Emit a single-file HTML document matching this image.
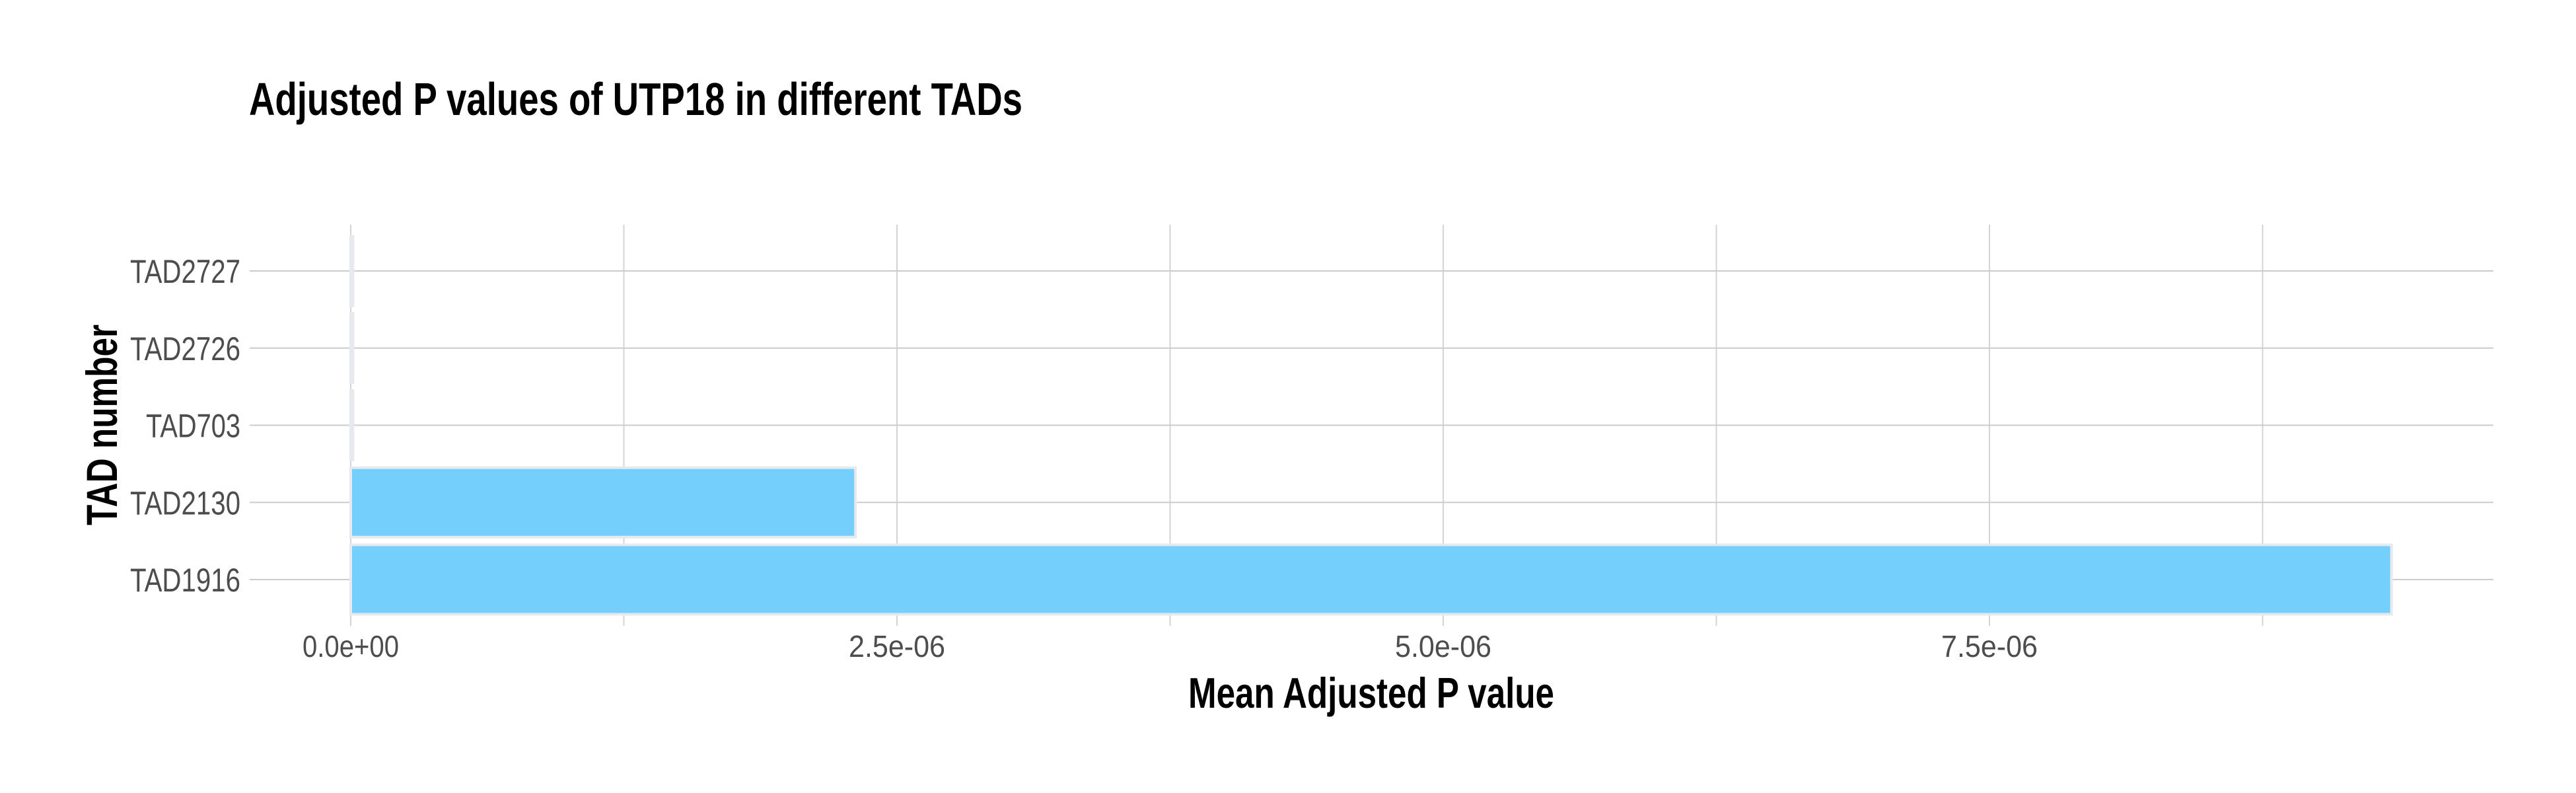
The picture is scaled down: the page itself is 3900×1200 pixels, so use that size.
<!DOCTYPE html>
<html><head><meta charset="utf-8"><style>
html,body{margin:0;padding:0;background:#fff;}
svg{display:block;}
text{font-family:"Liberation Sans",sans-serif;}
</style></head><body>
<svg id="chart" width="3900" height="1200" viewBox="0 0 3900 1200" xmlns="http://www.w3.org/2000/svg">
<rect width="3900" height="1200" fill="#fff"/>
<text x="377" y="174" font-size="70" font-weight="bold" fill="#000" textLength="1171" lengthAdjust="spacingAndGlyphs">Adjusted P values of UTP18 in different TADs</text>
<g id="grid"></g>
<g id="bars"></g>
<g id="ylabels"></g>
<g id="xlabels"></g>
<text x="2076" y="1071" text-anchor="middle" font-size="65" font-weight="bold" fill="#000" textLength="554" lengthAdjust="spacingAndGlyphs">Mean Adjusted P value</text>
<text transform="translate(177,643) rotate(-90)" text-anchor="middle" font-size="66" font-weight="bold" fill="#000" textLength="304" lengthAdjust="spacingAndGlyphs">TAD number</text>
</svg>
<script>
const categories = ["TAD1916","TAD2130","TAD703","TAD2726","TAD2727"];
const values = [9.34e-6, 2.31e-6, 1e-8, 1e-8, 1e-8];
const xTicks = [0, 2.5e-6, 5e-6, 7.5e-6];
const xTickLabels = ["0.0e+00","2.5e-06","5.0e-06","7.5e-06"];
const xMinor = [1.25e-6, 3.75e-6, 6.25e-6, 8.75e-6];

const NS = "http://www.w3.org/2000/svg";
const plotL = 378, plotR = 3775, plotT = 340, plotB = 947;
const x0 = 531, pxPer = 827 / 2.5e-6;
function xScale(v){ return x0 + v * pxPer; }
const bandTop = 877, band = 116.75;
function yScale(i){ return bandTop - i * band; }
function mk(tag, attrs, parent){
  const e = document.createElementNS(NS, tag);
  for (const k in attrs) e.setAttribute(k, attrs[k]);
  parent.appendChild(e);
  return e;
}
const grid = document.getElementById('grid');
xMinor.concat(xTicks).forEach(v => {
  const l = mk('line', {x1: xScale(v), x2: xScale(v), y1: plotT, y2: plotB, stroke: '#d4d4d4', 'stroke-width': 2}, grid);
  
  
});
categories.forEach((c, i) => {
  const l = mk('line', {x1: plotL, x2: plotR, y1: yScale(i), y2: yScale(i), stroke: '#cccccc', 'stroke-width': 2}, grid);
  
  
});
const bars = document.getElementById('bars');
const bh = band * 0.9;
categories.forEach((c, i) => {
  const r = mk('rect', {x: xScale(0), y: yScale(i) - bh / 2, width: Math.max(0, xScale(values[i]) - xScale(0)), height: bh,
    fill: '#74cffc', stroke: '#e6eaee', 'stroke-width': 4}, bars);
  
  
});
const yl = document.getElementById('ylabels');
categories.forEach((c, i) => {
  const t = mk('text', {x: 364, y: yScale(i) + 18, 'text-anchor': 'end', 'font-size': 50, fill: '#4d4d4d',
    textLength: 24 * c.length - 1, lengthAdjust: 'spacingAndGlyphs'}, yl);
  t.textContent = c;
  
  
});
const xl = document.getElementById('xlabels');
xTicks.forEach((v, i) => {
  const t = mk('text', {x: xScale(v), y: 994, 'text-anchor': 'middle', 'font-size': 46, fill: '#4d4d4d',
    textLength: 146, lengthAdjust: 'spacingAndGlyphs'}, xl);
  t.textContent = xTickLabels[i];
  
  
});
</script>
</body></html>
